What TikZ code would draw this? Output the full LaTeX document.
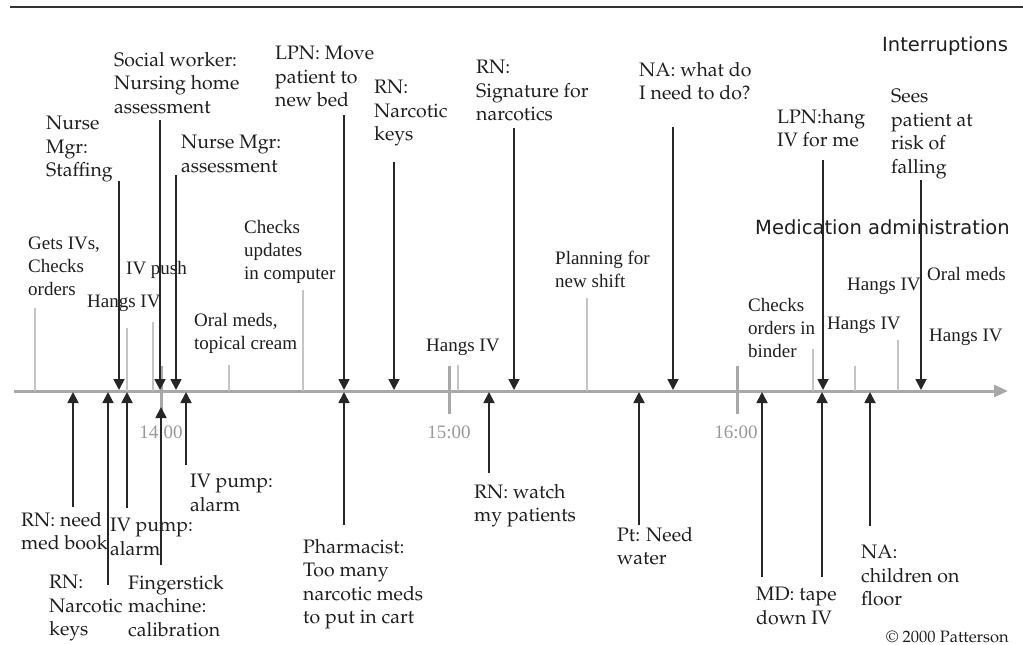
\documentclass[tikz,border=0pt]{standalone}
\usepackage[T1]{fontenc}
\usepackage{fontspec}
\usetikzlibrary{arrows.meta}
\newfontfamily\timesf{Liberation Serif}
\newfontfamily\sansf{DejaVu Sans}
\newcommand\palf{\fontencoding{T1}\fontfamily{ppl}\selectfont}
\definecolor{axisgray}{HTML}{A8A8A8}
\definecolor{medgray}{HTML}{C4C4C4}
\definecolor{intgray}{HTML}{262626}
\definecolor{txt}{HTML}{1E1E1E}
\begin{document}
\begin{tikzpicture}[x=1pt,y=-1pt,
  intlab/.style={font=\palf\fontsize{19.5}{23.5}\selectfont, align=left, anchor=north west, inner sep=0pt, text=txt},
  medlab/.style={font=\timesf\fontsize{19}{23}\selectfont, align=left, anchor=north west, inner sep=0pt, text=txt},
  heading/.style={font=\sansf\fontsize{19.5}{23.5}\selectfont, anchor=north west, inner sep=0pt, text=txt},
  ticklab/.style={font=\timesf\fontsize{19}{23}\selectfont, anchor=center, inner sep=0pt, text=black!40},
  intarrow/.style={draw=intgray, line width=1.8pt, -{Triangle[length=11pt,width=11pt]}},
  medline/.style={draw=medgray, line width=1.3pt},
  tickmark/.style={draw=axisgray, line width=3pt},
  axisline/.style={draw=axisgray, line width=3pt, -{Triangle[length=14pt,width=12pt]}}]
\useasboundingbox (0,0) rectangle (1023,645);
% top rule
\coordinate (r0) at (10,7);
\coordinate (r1) at (1023,7);
\draw[line width=2.5pt, black!80] (r0) -- (r1);
% axis
\coordinate (ax0) at (14,391);
\coordinate (ax1) at (1008,391);
\draw[axisline] (ax0) -- (ax1);
% ticks
\coordinate (t14a) at (161,366); \coordinate (t14b) at (161,414);
\coordinate (t15a) at (449,366); \coordinate (t15b) at (449,414);
\coordinate (t16a) at (737,366); \coordinate (t16b) at (737,414);
\draw[tickmark] (t14a) -- (t14b);
\draw[tickmark] (t15a) -- (t15b);
\draw[tickmark] (t16a) -- (t16b);
\node[ticklab] (l14) at (161,432) {14:00};
\node[ticklab] (l15) at (449,432) {15:00};
\node[ticklab] (l16) at (736,432) {16:00};
% headings
\node[heading] (hint) at (882,36) {Interruptions};
\node[heading] (hmed) at (755,219) {Medication administration};
% medication labels
\node[medlab] (ma) at (28,237) {Gets IVs,\\Checks\\orders};
\node[medlab] (mb) at (87,295) {Hangs IV};
\node[medlab] (mc) at (126,261) {IV push};
\node[medlab] (md) at (194,313) {Oral meds,\\topical cream};
\node[medlab] (me) at (244,220) {Checks\\updates\\in computer};
\node[medlab] (mf) at (426,339) {Hangs IV};
\node[medlab] (mg) at (555,251) {Planning for\\new shift};
\node[medlab] (mh) at (748,298) {Checks\\orders in\\binder};
\node[medlab] (mi) at (827,317) {Hangs IV};
\node[medlab] (mj) at (847,278) {Hangs IV};
\node[medlab] (mk) at (927,267) {Oral meds};
\node[medlab] (ml) at (929,329) {Hangs IV};
% medication lines
\foreach \n/\x/\y in {1/35/308, 2/127/328, 3/153/322, 4/229/365, 5/303/290, 6/458/365, 7/587/298, 8/813/349, 9/855/366, 10/898/340}{
  \coordinate (ms\n) at (\x,\y);
  \coordinate (me\n) at (\x,391);
  \draw[medline] (ms\n) -- (me\n);
}
% interruption labels above
\node[intlab] (ia) at (46,116) {Nurse\\Mgr:\\Staffing};
\node[intlab] (ib) at (114,52) {Social worker:\\Nursing home\\assessment};
\node[intlab] (ic) at (181,135) {Nurse Mgr:\\assessment};
\node[intlab] (id) at (275,46) {LPN: Move\\patient to\\new bed};
\node[intlab] (ie) at (374,80) {RN:\\Narcotic\\keys};
\node[intlab] (if) at (476,60) {RN:\\Signature for\\narcotics};
\node[intlab] (ig) at (639,62) {NA: what do\\I need to do?};
\node[intlab] (ih) at (777,109) {LPN:hang\\IV for me};
\node[intlab] (ii) at (891,89) {Sees\\patient at\\risk of\\falling};
% interruption arrows from above
\foreach \n/\x/\y in {1/119/181, 2/160/120, 3/176/175, 4/344/115, 5/394/162, 6/514/128, 7/673/127, 8/823/160, 9/921/180}{
  \coordinate (ds\n) at (\x,\y);
  \coordinate (de\n) at (\x,390);
  \draw[intarrow] (ds\n) -- (de\n);
}
% interruption labels below
\node[intlab] (ja) at (21,512) {RN: need\\med book};
\node[intlab] (jb) at (110,518) {IV pump:\\alarm};
\node[intlab] (jc) at (190,474) {IV pump:\\alarm};
\node[intlab] (jd) at (49,575) {RN:\\Narcotic\\keys};
\node[intlab] (je) at (128,575) {Fingerstick\\machine:\\calibration};
\node[intlab] (jf) at (303,539) {Pharmacist:\\Too many\\narcotic meds\\to put in cart};
\node[intlab] (jg) at (474,484) {RN: watch\\my patients};
\node[intlab] (jh) at (617,527) {Pt: Need\\water};
\node[intlab] (ji) at (756,587) {MD: tape\\down IV};
\node[intlab] (jj) at (861,545) {NA:\\children on\\floor};
% interruption arrows from below
\foreach \n/\x/\y/\t in {1/73/507/392, 2/108/585/392, 3/127/508/392, 4/161/565/407, 5/186/465/392, 6/344/525/392, 7/489/473/392, 8/639/525/392, 9/762/577/392, 10/822/577/392, 11/870/526/392}{
  \coordinate (us\n) at (\x,\y);
  \coordinate (ue\n) at (\x,\t);
  \draw[intarrow] (us\n) -- (ue\n);
}
% copyright
\node[intlab, font=\palf\fontsize{16.5}{20}\selectfont] (copy) at (886,630) {\textcopyright\ 2000 Patterson};
\end{tikzpicture}
\end{document}
